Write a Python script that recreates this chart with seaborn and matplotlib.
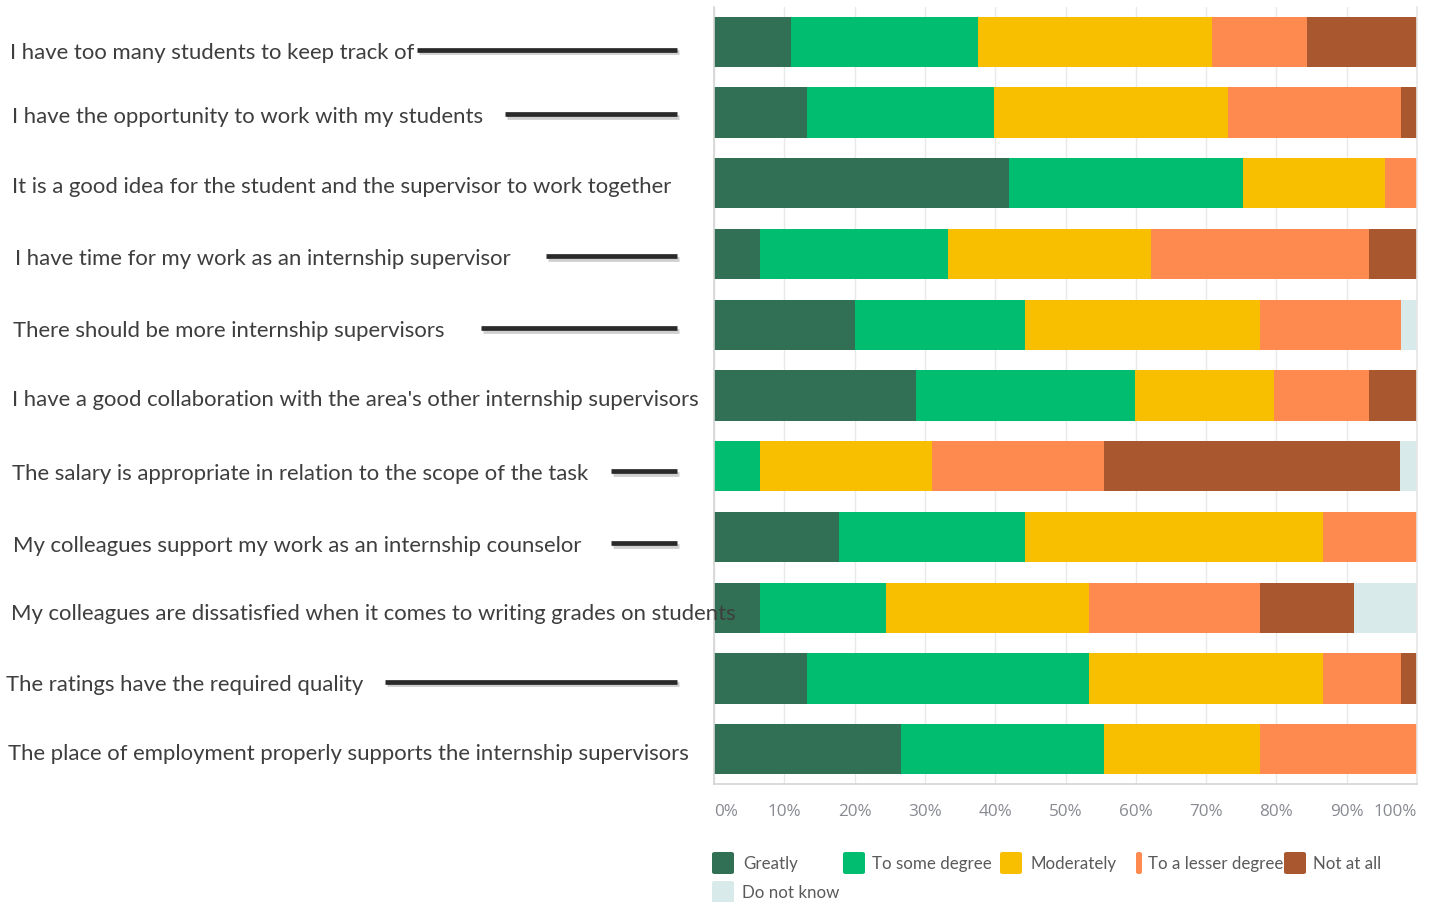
import numpy as np
import pandas as pd
import matplotlib
matplotlib.use("Agg")
import matplotlib.pyplot as plt
import matplotlib.patheffects as pe
from matplotlib.lines import Line2D
from matplotlib.patches import FancyBboxPatch
from matplotlib.transforms import blended_transform_factory, offset_copy
import seaborn as sns

# ---- survey statements (top to bottom) ----
statements = [
    "I have too many students to keep track of",
    "I have the opportunity to work with my students",
    "It is a good idea for the student and the supervisor to work together",
    "I have time for my work as an internship supervisor",
    "There should be more internship supervisors",
    "I have a good collaboration with the area's other internship supervisors",
    "The salary is appropriate in relation to the scope of the task",
    "My colleagues support my work as an internship counselor",
    "My colleagues are dissatisfied when it comes to writing grades on students",
    "The ratings have the required quality",
    "The place of employment properly supports the internship supervisors",
]

levels = ["Greatly", "To some degree", "Moderately", "To a lesser degree",
          "Not at all", "Do not know"]

# ---- response shares in percent ----
greatly      = [10.9, 13.2, 42.0,  6.6, 20.0, 28.8,  0.0, 17.8,  6.6, 13.2, 26.6]
some_degree  = [26.7, 26.6, 33.3, 26.7, 24.2, 31.1,  6.6, 26.4, 17.9, 40.1, 28.9]
moderately   = [33.3, 33.3, 20.1, 28.8, 33.4, 19.8, 24.4, 42.4, 28.9, 33.3, 22.1]
lesser       = [13.5, 24.6,  4.6, 31.1, 20.1, 13.5, 24.5, 13.4, 24.3, 11.1, 22.4]
not_at_all   = [15.6,  2.3,  0.0,  6.8,  0.0,  6.8, 42.1,  0.0, 13.4,  2.3,  0.0]
do_not_know  = [ 0.0,  0.0,  0.0,  0.0,  2.3,  0.0,  2.4,  0.0,  8.9,  0.0,  0.0]

level_colors = ["#327055", "#00BD6F", "#F8BF00", "#FF8A4F", "#A9572E", "#D8EBEA"]

x_ticks = [0, 10, 20, 30, 40, 50, 60, 70, 80, 90, 100]
x_tick_labels = ["0%", "10%", "20%", "30%", "40%", "50%", "60%", "70%", "80%", "90%", "100%"]

# ---- layout (pixels) ----
W, H = 1434, 903
label_x = [10, 12, 12, 15, 13, 12, 12, 13, 11, 6, 8]
label_baseline = [16, 10, 9, 10, 11, 10, 13, 14, 11, 11, 10]
leader_start = {0: 417, 1: 505, 3: 546, 4: 481, 6: 611, 7: 611, 9: 385}
leader_end = 677

sns.set_theme(style="white")
plt.rcParams["font.family"] = ["Lato", "DejaVu Sans"]

fig = plt.figure(figsize=(W / 100, H / 100), dpi=100)
ax = fig.add_axes([714 / W, 1 - 785 / H, 703 / W, 777 / H])

shares = pd.DataFrame(
    dict(zip(levels, [greatly, some_degree, moderately, lesser, not_at_all, do_not_know])),
    index=statements,
)
cum = shares.cumsum(axis=1).round(6)
long = (cum.reset_index(names="statement")
           .melt(id_vars="statement", var_name="level", value_name="cum"))

# stacked bars: cumulative totals drawn back-to-front
sns.barplot(data=long, x="cum", y="statement", hue="level",
            hue_order=levels[::-1], order=statements,
            palette=dict(zip(levels, level_colors)),
            dodge=False, saturation=1, width=0.71, orient="h",
            errorbar=None, legend=False, linewidth=0, ax=ax)

ax.set_xlim(0, 100)
ax.set_ylim(len(statements) - 0.51, -0.49)
ax.set_axisbelow(True)
ax.xaxis.grid(True, color="#E9E9E9", linewidth=1)
ax.yaxis.grid(False)
ax.set_yticks([])
ax.set_xlabel("")
ax.set_ylabel("")
ax.set_xticks(x_ticks)
ax.set_xticklabels(x_tick_labels, fontfamily="Open Sans", fontsize=12.3,
                   color="#878A90")
tl = ax.get_xticklabels()
tl[0].set_ha("left")
tl[-1].set_ha("right")
ax.tick_params(axis="x", length=0, pad=14)
ax.spines["top"].set_visible(False)
for side, col in [("left", "#D4D4D4"), ("bottom", "#D4D4D4"), ("right", "#E6E6E6")]:
    ax.spines[side].set_color(col)
    ax.spines[side].set_linewidth(1.2)

# ---- statement labels and leader lines ----
blend = blended_transform_factory(fig.transFigure, ax.transData)
for i, text in enumerate(statements):
    tr = offset_copy(blend, fig=fig, x=0, y=-label_baseline[i], units="dots")
    ax.text(label_x[i] / W, i, text, transform=tr, ha="left", va="baseline",
            fontsize=15.9, color="#3E3E3E", clip_on=False, zorder=5)
    if i in leader_start:
        ltr = offset_copy(blend, fig=fig, x=0, y=-(label_baseline[i] - 8), units="dots")
        line = Line2D([leader_start[i] / W, leader_end / W], [i, i], transform=ltr,
                      color="#2A2A2A", linewidth=3.4, solid_capstyle="butt",
                      path_effects=[pe.SimpleLineShadow(offset=(1.5, -2.0),
                                                        shadow_color="#777777", alpha=0.35),
                                    pe.Normal()])
        fig.add_artist(line)

# ---- legend ----
legend_items = [
    # (level index, marker x, marker width, row y, text x)
    (0, 712, 22, 864, 743),
    (1, 843, 22, 864, 872),
    (2, 1000, 22, 864, 1031),
    (3, 1136, 6, 864, 1148),
    (4, 1284, 22, 864, 1313),
    (5, 712, 22, 893, 742),
]
for idx, mx, mw, my, tx in legend_items:
    box = FancyBboxPatch((mx / W, 1 - (my + 11) / H), mw / W, 22 / H,
                         boxstyle="round,pad=0,rounding_size=0.002",
                         transform=fig.transFigure, facecolor=level_colors[idx],
                         edgecolor="none")
    fig.add_artist(box)
    fig.text(tx / W, 1 - my / H, levels[idx], ha="left", va="center",
             fontsize=12.2, color="#5A5A5A")

fig.savefig("out.png", dpi=100, facecolor="white")
